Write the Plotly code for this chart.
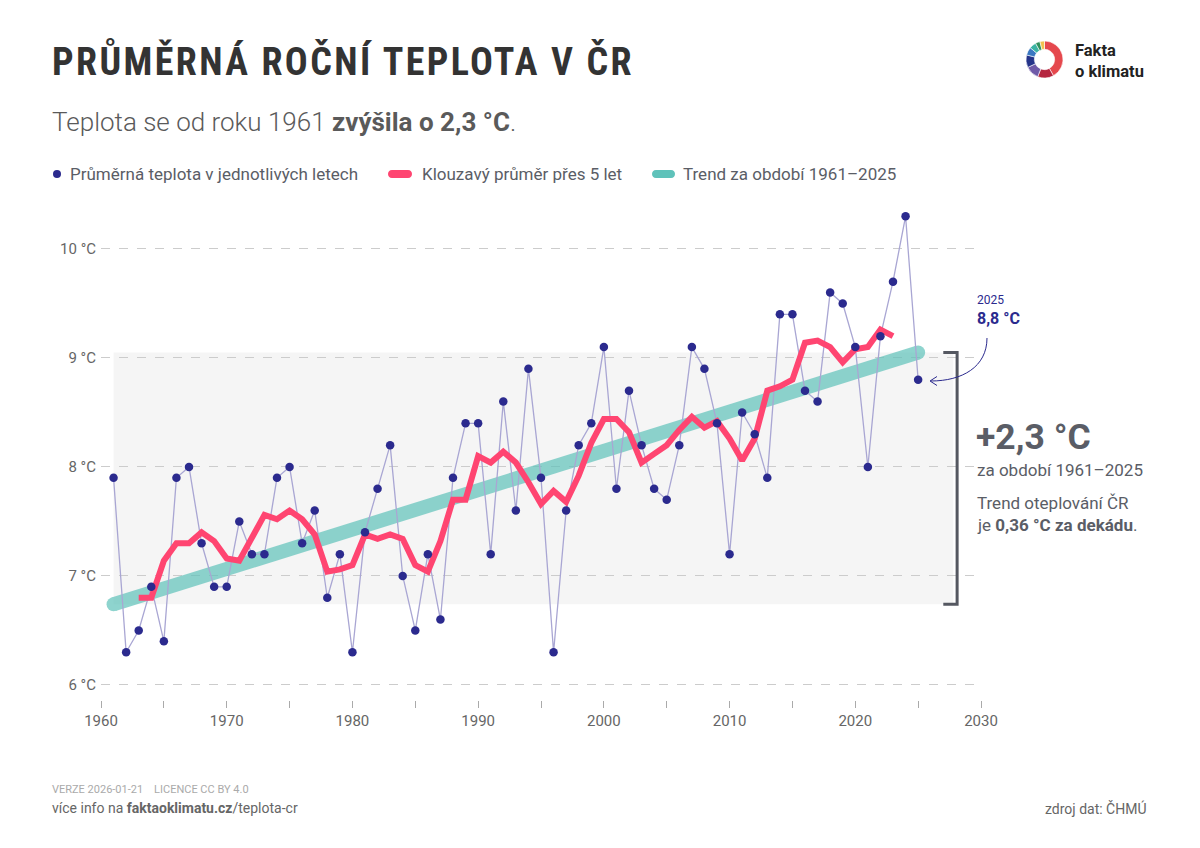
import plotly.graph_objects as go

# annual mean temperature in the Czech Republic (°C)
YEARS = list(range(1961, 2026))
TEMPS = [7.9, 6.3, 6.5, 6.9, 6.4, 7.9, 8.0, 7.3, 6.9, 6.9,   # 1961-1970
         7.5, 7.2, 7.2, 7.9, 8.0, 7.3, 7.6, 6.8, 7.2, 6.3,   # 1971-1980
         7.4, 7.8, 8.2, 7.0, 6.5, 7.2, 6.6, 7.9, 8.4, 8.4,   # 1981-1990
         7.2, 8.6, 7.6, 8.9, 7.9, 6.3, 7.6, 8.2, 8.4, 9.1,   # 1991-2000
         7.8, 8.7, 8.2, 7.8, 7.7, 8.2, 9.1, 8.9, 8.4, 7.2,   # 2001-2010
         8.5, 8.3, 7.9, 9.4, 9.4, 8.7, 8.6, 9.6, 9.5, 9.1,   # 2011-2020
         8.0, 9.2, 9.7, 10.3, 8.8]                          # 2021-2025

# 5-year moving average (centred), 1963-2023
MA_YEARS = list(range(1963, 2024))
MA_TEMPS = [6.80, 6.80, 7.14, 7.30, 7.30, 7.40, 7.32, 7.16,
            7.14, 7.34, 7.56, 7.52, 7.60, 7.52, 7.38, 7.04, 7.06, 7.10,
            7.38, 7.34, 7.38, 7.34, 7.10, 7.04, 7.32, 7.70, 7.70, 8.10,
            8.04, 8.14, 8.04, 7.86, 7.66, 7.78, 7.68, 7.92, 8.22, 8.44,
            8.44, 8.32, 8.04, 8.12, 8.20, 8.34, 8.46, 8.36, 8.42, 8.26,
            8.06, 8.26, 8.70, 8.74, 8.80, 9.14, 9.16, 9.10, 8.96, 9.08,
            9.10, 9.26, 9.20]

# linear trend 1961-2025
TREND_YEARS = [1961, 2025]
TREND_TEMPS = [6.74, 9.05]

X_TICKS = list(range(1960, 2031, 5))
X_LABELS = [str(v) if v % 10 == 0 else "" for v in X_TICKS]
Y_TICKS = [6, 7, 8, 9, 10]
Y_LABELS = ["%d °C" % v for v in Y_TICKS]

LOGO_SHARES = [42, 14, 12, 11, 7, 6, 4, 4]
LOGO_COLORS = ["#e5484d", "#b5263f", "#6f5aa8", "#25348a",
               "#3b78c2", "#3bb3a3", "#2f8f5b", "#f2c14e"]

W, H = 1200, 848
NAVY = "#2b2a8e"
RED = "#ff4571"
TEAL = "#5fc2ba"
GREY = "#5a5d66"
FONT = "Roboto"


def fx(px):
    return px / W


def fy(py):
    return 1 - py / H


fig = go.Figure()

fig.add_trace(go.Scatter(
    x=TREND_YEARS, y=TREND_TEMPS, mode="lines+markers",
    line=dict(color=TEAL, width=14), marker=dict(color=TEAL, size=14),
    opacity=0.7, hoverinfo="skip", showlegend=False))

fig.add_trace(go.Scatter(
    x=YEARS, y=TEMPS, mode="lines",
    line=dict(color="#a9a6d3", width=1.3), hoverinfo="skip", showlegend=False))

fig.add_trace(go.Scatter(
    x=MA_YEARS, y=MA_TEMPS, mode="lines",
    line=dict(color=RED, width=6), hoverinfo="skip", showlegend=False))

fig.add_trace(go.Scatter(
    x=YEARS, y=TEMPS, mode="markers",
    marker=dict(color=NAVY, size=8.5), showlegend=False))

# logo
fig.add_trace(go.Pie(
    values=LOGO_SHARES, marker=dict(colors=LOGO_COLORS, line=dict(color="white", width=0.6)),
    hole=0.55, sort=False, direction="clockwise", textinfo="none",
    hoverinfo="skip", showlegend=False,
    domain=dict(x=[fx(1026), fx(1063)], y=[fy(78), fy(41)])))

shapes = []
# shaded band spanning the trend range
shapes.append(dict(type="rect", xref="x", yref="y", x0=TREND_YEARS[0], x1=2027.8,
                   y0=TREND_TEMPS[0], y1=TREND_TEMPS[1],
                   fillcolor="#f5f5f5", line=dict(width=0), layer="below"))
# bracket
bx, ba = 2028.1, 2027.0
shapes.append(dict(type="path", xref="x", yref="y",
                   path="M %s,%s L %s,%s L %s,%s L %s,%s" % (
                       ba, TREND_TEMPS[1], bx, TREND_TEMPS[1],
                       bx, TREND_TEMPS[0], ba, TREND_TEMPS[0]),
                   line=dict(color="#555861", width=3)))
# curved arrow to 2025 point
shapes.append(dict(type="path", xref="paper", yref="paper",
                   path="M %f,%f C %f,%f %f,%f %f,%f" % (
                       fx(987), fy(338), fx(987), fy(367), fx(962), fy(381), fx(931), fy(381)),
                   line=dict(color=NAVY, width=1)))
shapes.append(dict(type="path", xref="paper", yref="paper",
                   path="M %f,%f L %f,%f L %f,%f" % (
                       fx(937), fy(376.5), fx(930), fy(381), fx(937), fy(385.5)),
                   line=dict(color=NAVY, width=1)))


def pill(x0, x1, yc, r, color):
    p = "M %f,%f L %f,%f C %f,%f %f,%f %f,%f L %f,%f C %f,%f %f,%f %f,%f Z" % (
        fx(x0), fy(yc - r), fx(x1), fy(yc - r),
        fx(x1 + 4 * r / 3), fy(yc - r), fx(x1 + 4 * r / 3), fy(yc + r), fx(x1), fy(yc + r),
        fx(x0), fy(yc + r),
        fx(x0 - 4 * r / 3), fy(yc + r), fx(x0 - 4 * r / 3), fy(yc - r), fx(x0), fy(yc - r))
    return dict(type="path", xref="paper", yref="paper", path=p,
                fillcolor=color, line=dict(width=0))


# legend marks
shapes.append(dict(type="circle", xref="paper", yref="paper",
                   x0=fx(53), x1=fx(61), y0=fy(178), y1=fy(170),
                   fillcolor=NAVY, line=dict(width=0)))
shapes.append(pill(392, 408, 174, 4, RED))
shapes.append(pill(656, 671, 174, 4, TEAL))

ann = []


def text(px, py, s, size, color, anchor="left", weight=400, family=FONT):
    ann.append(dict(x=fx(px), y=fy(py), xref="paper", yref="paper", text=s,
                    showarrow=False, xanchor=anchor, yanchor="middle", align=anchor,
                    font=dict(family=family, size=size, color=color, weight=weight)))


text(50, 61, "<span style='letter-spacing:2.4px'>PRŮMĚRNÁ ROČNÍ TEPLOTA V ČR</span>",
     38, "#333333", weight=700, family="Roboto Condensed")
text(50, 122, "Teplota se od roku 1961 <b>zvýšila o 2,3 °C</b>.",
     26, "#5a5a5a", weight=300)
text(68, 174, "Průměrná teplota v jednotlivých letech", 17, GREY)
text(420, 174, "Klouzavý průměr přes 5 let", 17, GREY)
text(681, 174, "Trend za období 1961–2025", 17, GREY)

text(1073, 60.5, "<b>Fakta<br>o klimatu</b>", 16.5, "#222222")

text(975, 300, "2025", 12, NAVY)
text(975, 318, "<b>8,8 °C</b>", 16, NAVY)
text(974, 437, "<b>+2,3 °C</b>", 35.5, GREY)
text(975, 470, "za období 1961–2025", 17, GREY)
text(975, 503, "Trend oteplování ČR", 17, GREY)
text(975, 525, "je <b>0,36 °C za dekádu</b>.", 17, GREY)

text(50, 789, "VERZE 2026-01-21\u00a0\u00a0\u00a0\u00a0LICENCE CC BY 4.0", 11, "#aaaaaa")
text(50, 808, "více info na <b>faktaoklimatu.cz</b>/teplota-cr", 14, "#666666")
text(1149, 808, "zdroj dat: ČHMÚ", 14, "#666666", anchor="right")

fig.update_layout(
    width=W, height=H, margin=dict(l=0, r=0, t=0, b=0),
    paper_bgcolor="white", plot_bgcolor="white",
    font=dict(family=FONT, color=GREY),
    shapes=shapes, annotations=ann, showlegend=False,
    xaxis=dict(domain=[fx(101), fx(981)], range=[1960, 2030], automargin=False,
               tickvals=X_TICKS, ticktext=X_LABELS, ticks="outside", ticklen=7,
               tickcolor="#aaaaaa", showgrid=False, zeroline=False, showline=False,
               tickfont=dict(size=15, color="#666666")),
    yaxis=dict(domain=[fy(700), fy(195)], range=[5.862, 10.495], automargin=False,
               tickvals=Y_TICKS, ticktext=Y_LABELS, showgrid=True,
               gridcolor="#cccccc", griddash="dash", gridwidth=1,
               zeroline=False, showline=False, ticks="", ticklabelstandoff=4,
               tickfont=dict(size=15, color="#666666")),
)

fig.write_html("out.html", config={"displayModeBar": False},
               post_script="document.body.style.margin = '0';")
